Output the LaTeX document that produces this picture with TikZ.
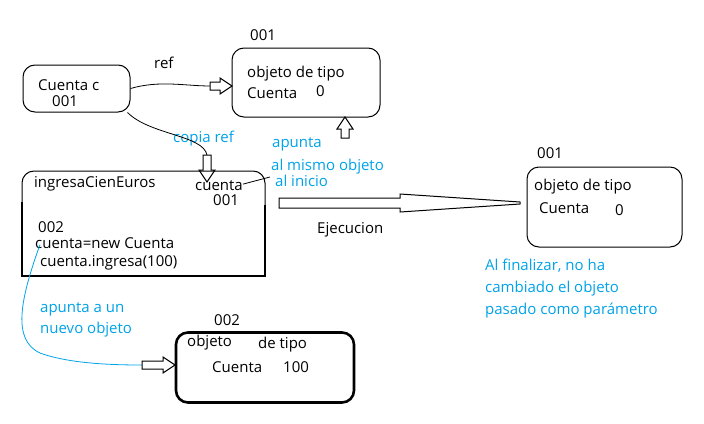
\documentclass[tikz,border=0pt]{standalone}
\usepackage{fontspec}
\setmainfont{Open Sans}
\usetikzlibrary{arrows.meta}
\definecolor{paintblue}{RGB}{0,162,232}

\begin{document}
\begin{tikzpicture}[x=1pt, y=-1pt, font=\fontsize{15}{18}\selectfont,
  txt/.style={anchor=base west, inner sep=0pt},
  note/.style={txt, text=paintblue},
  objbox/.style={draw, line width=1pt, rounded corners=12pt},
  pics/harrow/.style={code={%
    \draw[fill=white, line width=1pt]
      (-#1,-4) -- (-12,-4) -- (-12,-8) -- (0,0) -- (-12,8) -- (-12,4) -- (-#1,4) -- cycle;}}]

\useasboundingbox (0,0) rectangle (704,423);

% ---------- variable c and the object it refers to ----------
\node[objbox, minimum width=107, minimum height=47] (varc) at (76.5,88.5) {};
\node[txt] (lc) at (38,90) {Cuenta c};
\node[txt] (lcid) at (52,106) {001};

\node[objbox, minimum width=148, minimum height=69] (obj1) at (306,82.5) {};
\node[txt] (o1id) at (250,40) {001};
\node[txt] (o1a) at (247,77) {objeto de tipo};
\node[txt] (o1b) at (247,98) {Cuenta};
\node[txt] (o1v) at (316,96) {0};

\node[txt] (lref) at (154,68) {ref};
\coordinate (reftail) at (210,86);
\draw[line width=0.8pt] (varc.east) .. controls (160,80) and (185,86) .. (reftail);
\pic at (232,86) {harrow=22};

% ---------- copy of the reference ----------
\node[note] (lcopia) at (173,142) {copia ref};
\coordinate (copytail) at (207,155);
\draw[line width=0.8pt] ([xshift=-3pt]varc.south east) .. controls (150,135) and (203,135) .. (copytail);
\pic[rotate=-90] at (207,182) {harrow=27};

\pic[rotate=90] at (345,117) {harrow=21};
\node[note] (lap1) at (272,147) {apunta};
\node[note] (lap2) at (271,170) {al mismo objeto};
\node[note] (lap3) at (275,186) {al inicio};

% ---------- method ingresaCienEuros ----------
\draw[line width=1pt, rounded corners=12pt] (22,203) -- (22,171) -- (265,171) -- (265,206);
\draw[line width=2.6pt] (22,202) -- (22,276) -- (265,276) -- (265,205);
\node[txt] (mname) at (34,187) {ingresaCienEuros};
\node[txt] (mcuenta) at (195,190) {cuenta};
\node[txt] (mcid) at (213,205) {001};
\node[txt] (mnid) at (38,232) {002};
\node[txt] (mnew) at (35,248) {cuenta=new Cuenta};
\node[txt] (ming) at (40,266) {cuenta.ingresa(100)};
\coordinate (inicio) at (270,177);
\draw[line width=0.8pt] ([yshift=1pt]mcuenta.east) -- (inicio);

% ---------- new object 002 ----------
\node[objbox, line width=2.6pt, minimum width=178, minimum height=70] (obj2) at (265,367.5) {};
\node[txt] (o2id) at (214,325) {002};
\node[txt] (o2a) at (187,346) {objeto};
\node[txt] (o2b) at (258,348) {de tipo};
\node[txt] (o2c) at (212,372) {Cuenta};
\node[txt] (o2v) at (283,372) {100};

\node[note] (lnu1) at (40,312) {apunta a un};
\node[note] (lnu2) at (40,333) {nuevo objeto};
\coordinate (newtail) at (142,365);
\draw[paintblue, line width=0.8pt] ([xshift=5pt, yshift=-2pt]mnew.west)
  .. controls (20,300) and (12,340) .. (40,353)
  .. controls (70,364) and (115,365) .. (newtail);
\pic at (175,365) {harrow=33};

% ---------- after execution ----------
\draw[line width=1pt, fill=white] (279,198) -- (400,198) -- (400,194) -- (520,202)
  -- (520,204) -- (400,212) -- (400,208) -- (279,208) -- cycle;
\node[txt] (lejec) at (317,233) {Ejecucion};

\node[objbox, minimum width=155, minimum height=80] (obj1b) at (604.5,207) {};
\node[txt] (o3id) at (537,158) {001};
\node[txt] (o3a) at (534,190) {objeto de tipo};
\node[txt] (o3b) at (539,213) {Cuenta};
\node[txt] (o3v) at (615,215) {0};

\node[note] (lfin1) at (485,270) {Al finalizar, no ha};
\node[note] (lfin2) at (485,292) {cambiado el objeto};
\node[note] (lfin3) at (485,314) {pasado como parámetro};

\end{tikzpicture}
\end{document}
